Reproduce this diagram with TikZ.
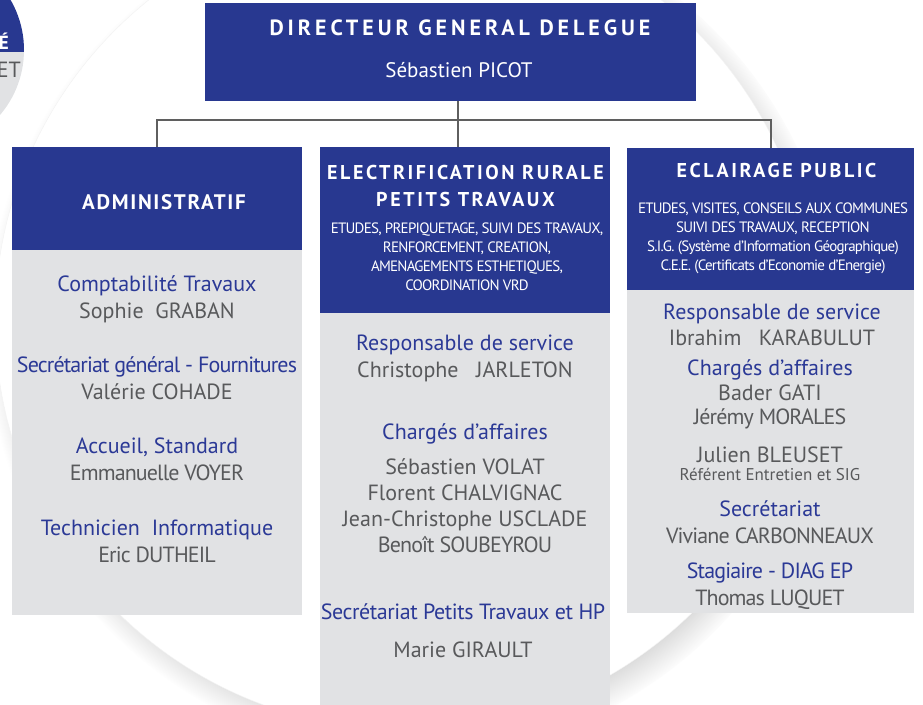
\documentclass[tikz,border=0pt]{standalone}
\usepackage{fontspec}
\setmainfont{PT Sans}
\usetikzlibrary{positioning, shadows}

\definecolor{hdblue}{RGB}{40,56,144}
\definecolor{bodygray}{RGB}{225,226,228}
\definecolor{roleblue}{RGB}{43,57,150}
\definecolor{namegray}{RGB}{88,89,91}
\definecolor{linegray}{RGB}{95,95,95}

\newcommand{\role}[1]{\textcolor{roleblue}{#1}}
\newcommand{\tight}[2][-4]{{\addfontfeatures{LetterSpace=#1}#2}}

\begin{document}
\begin{tikzpicture}[x=1pt,y=-1pt]

\tikzset{box/.style = {shape=rectangle, fill=hdblue, inner sep=0pt}}
\tikzset{body/.style = {shape=rectangle, fill=bodygray, inner sep=0pt, minimum width=290}}
\tikzset{title/.style = {text=white, inner sep=0pt, align=center,
  font=\bfseries\fontsize{20}{27}\selectfont\addfontfeatures{LetterSpace=13}}}
\tikzset{small/.style = {text=white, inner sep=0pt, align=center,
  font=\fontsize{15}{19}\selectfont\addfontfeatures{LetterSpace=-5}}}
\tikzset{entry/.style = {align=center, text=namegray, inner sep=0pt, font=\fontsize{22}{27}\selectfont}}
\tikzset{link/.style = {draw=linegray, line width=2pt}}

\useasboundingbox (0,0) rectangle (923,704);
%background
\fill[white, draw=black!5, circular drop shadow={shadow xshift=8pt, shadow yshift=-10pt, shadow scale=1.04, opacity=0.55}] (405,320) circle (410);
\begin{scope}
\clip (-76,50) circle (100);
\fill[hdblue] (-180,-60) rectangle (30,52);
\fill[bodygray] (-180,52) rectangle (30,160);
\end{scope}
\node[title, anchor=east, font=\bfseries\fontsize{19}{19}\selectfont] (pe) at (9,41) {É};
\node[entry, anchor=east] (pet) at (21,70) {ET};

%boxes
\node[box, minimum width=491, minimum height=98] (dgd) at (450.5,52) {};
\node[box, minimum width=290, minimum height=103] (admin) at (157,198.5) {};
\node[box, minimum width=290, minimum height=166] (elec) at (465,230) {};
\node[box, minimum width=287, minimum height=142] (eclair) at (770.5,219) {};
\node[body, minimum height=365, below=0pt of admin] (adminbody) {};
\node[body, minimum height=397, below=0pt of elec] (elecbody) {};
\node[body, minimum width=287, minimum height=323, below=0pt of eclair] (eclairbody) {};

%links
\coordinate (bus) at (458,120);
\draw[link] (dgd.south -| bus) -- (elec.north -| bus);
\draw[link] (admin.north) |- (bus) -| (eclair.north);

%headers
\node[title, font=\bfseries\fontsize{22}{27}\selectfont\addfontfeatures{LetterSpace=18}] (dgdtitle) at (460,28) {DIRECTEUR GENERAL DELEGUE};
\node[entry, text=white, font=\fontsize{21}{27}\selectfont] (dgdname) at (459,70) {Sébastien PICOT};
\node[title, font=\bfseries\fontsize{21}{27}\selectfont\addfontfeatures{LetterSpace=8}] (admintitle) at (164,202) {ADMINISTRATIF};
\node[title] (electitle) at (465.5,185.5) {ELECTRIFICATION RURALE\\PETITS TRAVAUX};
\node[small] (elecsmall) at (467,257) {ETUDES, PREPIQUETAGE, SUIVI DES TRAVAUX,\\RENFORCEMENT, CREATION,\\
  AMENAGEMENTS ESTHETIQUES,\\COORDINATION VRD};
\node[title] (eclairtitle) at (776.5,170) {ECLAIRAGE PUBLIC};
\node[small] (eclairsmall) at (773,238) {ETUDES, VISITES, CONSEILS AUX COMMUNES\\SUIVI DES TRAVAUX, RECEPTION\\
  S.I.G. (Système d’Information Géographique)\\C.E.E. (Certificats d’Economie d’Energie)};

%administratif
\node[entry] (a1) at (157,299) {\role{Comptabilité Travaux}\\Sophie\ \ GRABAN};
\node[entry] (a2) at (157,378.5) {\role{\tight{Secrétariat général - Fournitures}}\\Valérie COHADE};
\node[entry] (a3) at (157,459.5) {\role{Accueil, Standard}\\\tight{Emmanuelle VOYER}};
\node[entry] (a4) at (157,541) {\role{Technicien\ \ Informatique}\\\tight{Eric DUTHEIL}};
%electrification
\node[entry] (e1) at (465,358.5) {\role{Responsable de service}\\Christophe\ \ \ JARLETON};
\node[entry] (e2) at (465,488) {\role{Chargés d’affaires}\\[8pt]Sébastien VOLAT\\[-1pt]Florent CHALVIGNAC\\[-1pt]
  Jean-Christophe USCLADE\\[-1pt]\tight{Benoît SOUBEYROU}};
\node[entry] (e3) at (463,631) {\role{\tight[-2]{Secrétariat Petits Travaux et HP}}\\[11pt]Marie GIRAULT};
%eclairage
\node[entry] (p1) at (772,325) {\role{Responsable de service}\\[-1pt]Ibrahim\ \ \ KARABULUT};
\node[entry] (p2) at (770,394) {\role{Chargés d’affaires}\\[-2pt]Bader GATI\\[-3pt]\tight{Jérémy MORALES}};
\node[entry] (p3) at (770,464) {Julien BLEUSET\\[-9pt]{\fontsize{17}{18}\selectfont Référent Entretien et SIG}};
\node[entry] (p4) at (770,522.5) {\role{Secrétariat}\\\tight{Viviane CARBONNEAUX}};
\node[entry] (p5) at (770,586) {\role{\tight{Stagiaire - DIAG EP}}\\\tight{Thomas LUQUET}};

\end{tikzpicture}
\end{document}
